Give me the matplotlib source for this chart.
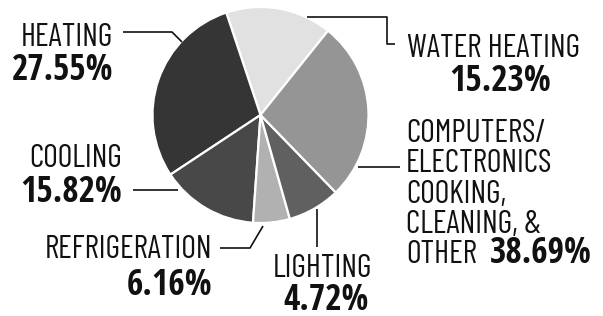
import matplotlib
matplotlib.use("Agg")
import matplotlib.pyplot as plt
from matplotlib import font_manager

# ---- data ----
categories = ["WATER HEATING", "HEATING", "COOLING", "REFRIGERATION", "LIGHTING",
              "COMPUTERS/\nELECTRONICS\nCOOKING,\nCLEANING, &\nOTHER"]
slice_shares = [15.9, 29.2, 14.6, 5.5, 7.9, 27.0]  # visual slice sizes
label_percents = ["15.23%", "27.55%", "15.82%", "6.16%", "4.72%", "38.69%"]
slice_colors = ["#e1e1e1", "#353535", "#484848", "#b1b1b1", "#606060", "#959595"]

names = {f.name for f in font_manager.fontManager.ttflist}

def pick(cands):
    for c in cands:
        if c in names:
            return c
    return "DejaVu Sans"

BOLD_FONT = pick(["Open Sans Condensed", "Roboto Condensed", "Barlow Condensed",
                  "Liberation Sans Narrow"])
REG_FONT = pick(["Barlow Condensed", "Roboto Condensed", "Asap Condensed",
                 "Archivo Narrow", "Liberation Sans Narrow"])
plt.rcParams['font.family'] = [REG_FONT, "DejaVu Sans"]

W, H = 603, 316
fig = plt.figure(figsize=(W / 100, H / 100), dpi=100)
ax = fig.add_axes([0, 0, 1, 1])

def Y(py):
    return H - py

cx, cy, r = 260.5, Y(115), 108
ax.pie(slice_shares, colors=slice_colors, startangle=51.3, counterclock=True,
       center=(cx, cy), radius=r, frame=True,
       wedgeprops=dict(edgecolor="white", linewidth=1.6))
ax.set_xlim(0, W)
ax.set_ylim(0, H)
ax.set_aspect("equal")
ax.axis("off")

TC = "#111111"
REG = 23
BOLD = 25.5
lw = 1.2

def line(pts):
    xs = [p[0] for p in pts]
    ys = [Y(p[1]) for p in pts]
    ax.plot(xs, ys, color=TC, lw=lw, solid_capstyle="butt", zorder=1)

def txt(x, y, s, ha, bold=False, size=None):
    ax.text(x, Y(y), s, ha=ha, va="baseline", color=TC,
            fontsize=size or (BOLD if bold else REG),
            family=[BOLD_FONT if bold else REG_FONT, "DejaVu Sans"],
            fontweight="bold" if bold else "normal")

# leader lines
line([(123, 32), (172, 32), (182, 42)])                 # heating
line([(307, 17), (387, 17), (387, 44), (395, 44)])      # water heating
line([(133, 190), (178, 190)])                          # cooling
line([(263, 226), (250, 248), (220, 248)])              # refrigeration
line([(317, 209), (317, 247)])                          # lighting
line([(358, 167), (400, 167)])                          # computers

# labels
txt(113, 46, categories[1], "right")
txt(113, 80, label_percents[1], "right", bold=True)
txt(407, 57, categories[0], "left")
txt(500, 91, label_percents[0], "center", bold=True)
txt(122, 167, categories[2], "right")
txt(122, 202, label_percents[2], "right", bold=True)
txt(212, 258, categories[3], "right")
txt(212, 295, label_percents[3], "right", bold=True)
txt(322, 277, categories[4], "center")
txt(326, 310, label_percents[4], "center", bold=True)

comp_lines = categories[5].split("\n")
for i, s in enumerate(comp_lines):
    txt(406, 142 + 30.3 * i, s, "left")
txt(490, 263, label_percents[5], "left", bold=True)

fig.savefig("out.png", dpi=100, facecolor="white")
